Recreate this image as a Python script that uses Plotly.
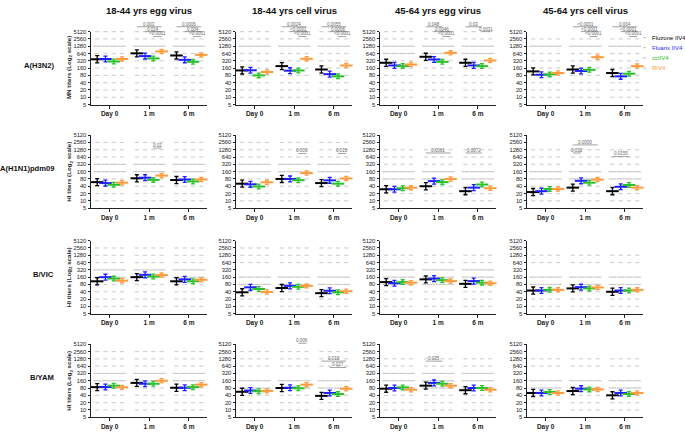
import math
import plotly.graph_objects as go

# ---------------- data ----------------
vaccines = ["Fluzone IIV4", "Fluarix IIV4", "ccIIV4", "RIV4"]
colors = ["#000000", "#1f1fff", "#27c227", "#ff9a3c"]
timepoints = ["Day 0", "1 m", "6 m"]
col_titles = ["18-44 yrs egg virus", "18-44 yrs cell virus",
              "45-64 yrs egg virus", "45-64 yrs cell virus"]
row_labels = ["A(H3N2)", "A(H1N1)pdm09", "B/VIC", "B/YAM"]
y_titles = ["MN titers (Log<sub>2</sub> scale)", "HI titers (Log<sub>2</sub> scale)",
            "HI titers (Log<sub>2</sub> scale)", "HI titers (Log<sub>2</sub> scale)"]
titer_ticks = [5, 10, 20, 40, 80, 160, 320, 640, 1280, 2560, 5120]

# geometric mean titers [panel][timepoint][vaccine]
gmt_h3n2 = [
    [[370, 380, 300, 380], [650, 500, 400, 780], [530, 350, 290, 560]],
    [[128, 130, 80, 110], [193, 125, 128, 386], [140, 90, 73, 205]],
    [[265, 206, 193, 225], [468, 363, 290, 680], [265, 206, 193, 330]],
    [[117, 85, 88, 100], [140, 121, 136, 452], [100, 73, 94, 193]],
]
gmt_h1n1 = [
    [[59, 54, 46, 56], [85, 90, 73, 110], [72, 76, 63, 76]],
    [[51, 48, 39, 58], [80, 80, 71, 140], [54, 70, 51, 84]],
    [[30, 30, 33, 35], [40, 65, 59, 80], [25, 35, 47, 33]],
    [[23, 25, 31, 31], [35, 67, 56, 75], [25, 38, 45, 35]],
]
gmt_bvic = [
    [[108, 160, 140, 115], [160, 200, 170, 195], [108, 130, 108, 125]],
    [[38, 61, 52, 39], [57, 70, 64, 70], [35, 44, 38, 42]],
    [[100, 90, 100, 95], [130, 140, 120, 110], [85, 110, 95, 90]],
    [[45, 45, 48, 48], [55, 62, 55, 60], [40, 45, 45, 48]],
]
gmt_byam = [
    [[87, 88, 100, 85], [130, 120, 120, 160], [82, 82, 87, 110]],
    [[56, 63, 59, 61], [80, 82, 78, 110], [38, 50, 45, 75]],
    [[75, 80, 85, 68], [100, 130, 120, 100], [65, 80, 80, 68]],
    [[50, 50, 55, 50], [60, 75, 70, 70], [40, 50, 45, 50]],
]
# 95% CI fold factor (upper = gmt*f, lower = gmt/f) [vaccine]
ci_fold = [1.40, 1.32, 1.25, 1.22]

# individual titer levels shown per panel: sparse dots and dense dashes
dots_h3n2 = [[10, 20, 40, 80, 160, 320, 640, 2560, 5120], [5, 10, 20, 40, 80, 160, 320, 640, 2560, 5120],
             [10, 20, 40, 80, 160, 320, 2560, 5120], [5, 10, 20, 40, 80, 160, 320, 640, 2560]]
dash_h3n2 = [[1280], [1280], [1280, 640], [1280]]
dots_h1n1 = [[5, 10, 20, 40, 80, 640, 1280, 2560], [5, 10, 20, 40, 80, 640, 1280, 2560],
             [5, 10, 20, 40, 320, 640, 1280], [5, 10, 20, 40, 320, 640, 1280]]
dash_h1n1 = [[160, 320], [160, 320], [80, 160], [80, 160]]
dots_bvic = [[10, 20, 40, 80, 640, 1280, 2560], [5, 10, 20, 40, 640, 1280, 2560],
             [10, 20, 40, 640, 1280], [5, 10, 20, 40, 640, 1280]]
dash_bvic = [[160, 320], [80, 160], [80, 160, 320], [80, 160]]
dots_byam = [[10, 20, 40, 80, 640, 1280, 2560], [5, 10, 20, 40, 640, 1280, 2560],
             [10, 20, 40, 640, 1280], [5, 10, 20, 40, 640, 1280]]
dash_byam = [[160, 320], [80, 160], [80, 160, 320], [80, 160]]

# significance brackets: (timepoint, vaccine_from, vaccine_to, titer level of line, label)
br_h3n2 = [
    [(1, 0, 3, 8100, "0.003"), (1, 1, 3, 5120, "0.014"), (1, 2, 3, 3200, "<0.0001"),
     (2, 0, 3, 8100, "0.0006"), (2, 1, 3, 5120, "0.004"), (2, 2, 3, 3200, "<0.0001")],
    [(1, 0, 3, 8100, "0.0024"), (1, 1, 3, 5120, "<0.0001"), (1, 2, 3, 3200, "<0.0001"),
     (2, 0, 3, 8100, "0.0055"), (2, 1, 3, 5120, "0.0008"), (2, 2, 3, 3200, "<0.0001")],
    [(1, 0, 2, 8100, "0.048"), (1, 1, 3, 5120, "0.0046"), (1, 2, 3, 3200, "<0.0001"),
     (2, 0, 2, 8100, "0.03"), (2, 2, 3, 5120, "0.0031")],
    [(1, 0, 3, 8100, "<0.0001"), (1, 1, 3, 5120, "<0.0001"), (1, 2, 3, 3200, "<0.0001"),
     (2, 0, 3, 8100, "0.004"), (2, 1, 3, 5120, "<0.0001"), (2, 2, 3, 3200, "<0.0001")],
]
br_h1n1 = [
    [(1, 2, 3, 1500, "0.02")],
    [(1, 2, 3, 900, "0.003"), (2, 2, 3, 900, "0.015")],
    [(1, 0, 3, 940, "0.0061"), (2, 0, 2, 940, "0.0072")],
    [(1, 0, 3, 2030, "0.0009"), (1, 0, 1, 940, "0.032"), (2, 0, 2, 670, "0.0155")],
]
br_bvic = [[], [], [], []]
br_byam = [
    [],
    [(1, 2, 3, 5600, "0.006"), (2, 0, 3, 1030, "0.019"), (2, 1, 3, 560, "0.027")],
    [(1, 0, 2, 1030, "0.035")],
    [],
]

gmt_all = [gmt_h3n2, gmt_h1n1, gmt_bvic, gmt_byam]
dots_all = [dots_h3n2, dots_h1n1, dots_bvic, dots_byam]
dash_all = [dash_h3n2, dash_h1n1, dash_bvic, dash_byam]
br_all = [br_h3n2, br_h1n1, br_bvic, br_byam]

# ---------------- layout geometry ----------------
W, H = 685, 435
col_left = [91, 236, 380, 527]
col_w = 116
row_top = [29, 134, 241, 346]
row_h = 74
GROUP_STEP = 4.8
XR = [-0.75, 13.3]
FONT = "Liberation Sans, Arial, sans-serif"


def xpos(t, v):
    return t * GROUP_STEP + v


def px_x(c, xv):
    return col_left[c] + (xv - XR[0]) / (XR[1] - XR[0]) * col_w


def px_y(r, titer):
    return row_top[r] + (math.log2(5120) - math.log2(titer)) / 10 * row_h


def text_at(xp, yp, text, size, color, xanchor="center", angle=0):
    return dict(xref="paper", yref="paper", x=xp / W, y=1 - yp / H, xanchor=xanchor,
                yanchor="middle", showarrow=False, text=text, textangle=angle,
                font=dict(size=size, family=FONT, color=color))


fig = go.Figure()
layout = dict(width=W, height=H, margin=dict(l=0, r=0, t=0, b=0),
              paper_bgcolor="white", plot_bgcolor="white", showlegend=False,
              font=dict(family=FONT, color="#222"))
annotations, shapes = [], []

for r in range(4):
    for c in range(4):
        k = r * 4 + c + 1
        xa, ya = ("x" if k == 1 else f"x{k}"), ("y" if k == 1 else f"y{k}")
        # individual points
        dx, dy, wx, wy = [], [], [], []
        for t in range(3):
            for v in range(4):
                for lv in dots_all[r][c]:
                    dx.append(xpos(t, v)); dy.append(lv)
                for lv in dash_all[r][c]:
                    wx.append(xpos(t, v)); wy.append(lv)
        fig.add_trace(go.Scatter(x=dx, y=dy, mode="markers", xaxis=xa, yaxis=ya,
                                 cliponaxis=False, hoverinfo="skip",
                                 marker=dict(symbol="line-ew", size=3,
                                             line=dict(width=1.2, color="#d2d2d2"))))
        fig.add_trace(go.Scatter(x=wx, y=wy, mode="markers", xaxis=xa, yaxis=ya,
                                 cliponaxis=False, hoverinfo="skip",
                                 marker=dict(symbol="line-ew", size=5.5,
                                             line=dict(width=1.3, color="#cdcdcd"))))
        # means with CI
        for v in range(4):
            xs = [xpos(t, v) for t in range(3)]
            g = [gmt_all[r][c][t][v] for t in range(3)]
            f = ci_fold[v]
            fig.add_trace(go.Scatter(
                x=xs, y=g, mode="markers", xaxis=xa, yaxis=ya, cliponaxis=False,
                name=vaccines[v],
                marker=dict(symbol="line-ew", size=9, line=dict(width=2, color=colors[v])),
                error_y=dict(type="data", symmetric=False,
                             array=[gi * (f - 1) for gi in g],
                             arrayminus=[gi * (1 - 1 / f) for gi in g],
                             color=colors[v], thickness=1.3, width=2)))
        x0 = col_left[c] / W
        x1 = (col_left[c] + col_w) / W
        y1 = 1 - row_top[r] / H
        y0 = 1 - (row_top[r] + row_h) / H
        layout["xaxis" if k == 1 else f"xaxis{k}"] = dict(
            domain=[x0, x1], anchor=ya, range=XR, showgrid=False, zeroline=False,
            showline=True, linecolor="#222", linewidth=1, ticks="outside", ticklen=3,
            tickcolor="#222", tickvals=[xpos(t, 1.5) for t in range(3)],
            ticktext=[f"<b>{s}</b>" for s in timepoints],
            tickfont=dict(size=6.5, family=FONT, color="#222"))
        layout["yaxis" if k == 1 else f"yaxis{k}"] = dict(
            domain=[y0, y1], anchor=xa, type="log",
            range=[math.log10(5), math.log10(5120)], showgrid=False, zeroline=False,
            showline=True, linecolor="#222", linewidth=1, ticks="outside", ticklen=2.5,
            tickcolor="#222", tickvals=titer_ticks, ticktext=[str(v) for v in titer_ticks],
            tickfont=dict(size=5.8, family=FONT, color="#222"))
        # brackets
        for (t, va, vb, lvl, lab) in br_all[r][c]:
            xa_px = px_x(c, xpos(t, va)); xb_px = px_x(c, xpos(t, vb))
            yy = px_y(r, lvl)
            shapes.append(dict(type="line", xref="paper", yref="paper",
                               x0=xa_px / W, x1=xb_px / W, y0=1 - yy / H, y1=1 - yy / H,
                               line=dict(color="#8a8a8a", width=0.8)))
            annotations.append(text_at((xa_px + xb_px) / 2, yy - 2.6, lab, 4.5, "#666"))

# column titles
for c in range(4):
    annotations.append(text_at(col_left[c] + col_w / 2, 8, f"<b>{col_titles[c]}</b>", 9.5, "#111"))
# row labels and y titles
for r in range(4):
    cy = row_top[r] + row_h / 2
    annotations.append(text_at(56, cy - 3, f"<b>{row_labels[r]}</b>", 7.6, "#111", xanchor="right"))
    annotations.append(text_at(69, cy, f"<b>{y_titles[r]}</b>", 6.2, "#222", angle=-90))
# legend
for v in range(4):
    ly = 35 + v * 10.3
    shapes.append(dict(type="line", xref="paper", yref="paper", x0=643 / W, x1=646 / W,
                       y0=1 - ly / H, y1=1 - ly / H, line=dict(color="#c9c9c9", width=1.2)))
    annotations.append(text_at(650, ly, vaccines[v], 6.0, colors[v], xanchor="left"))

layout["annotations"] = annotations
layout["shapes"] = shapes
fig.update_layout(**layout)
fig.write_html("out.html", config={"displayModeBar": False},
               post_script="document.body.style.margin='0px';")
